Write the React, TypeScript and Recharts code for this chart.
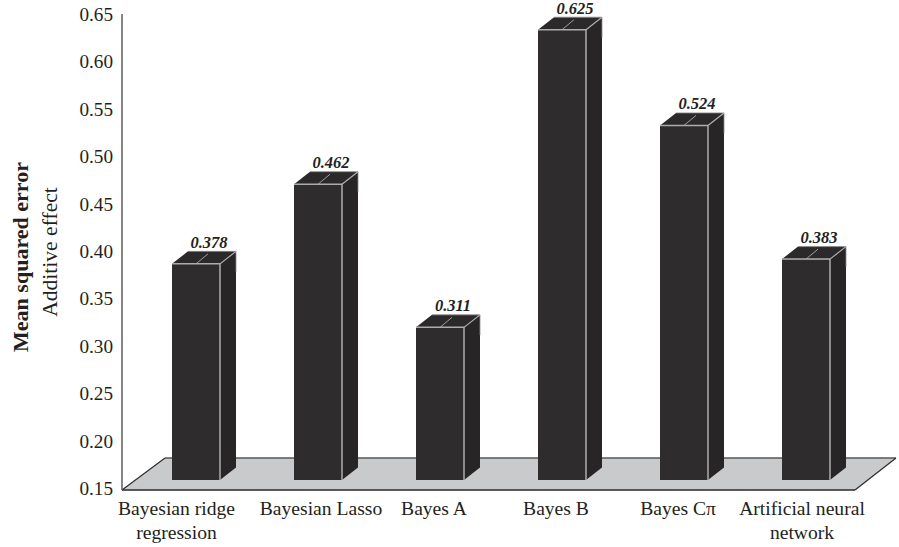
import { Bar, BarChart, LabelList, XAxis, YAxis } from "recharts";

const FONT = '"Liberation Serif", "Times New Roman", serif';

const categories = [
  "Bayesian ridge regression",
  "Bayesian Lasso",
  "Bayes A",
  "Bayes B",
  "Bayes Cπ",
  "Artificial neural network",
];
const mse = [0.378, 0.462, 0.311, 0.625, 0.524, 0.383];
const yTicks = [0.15, 0.2, 0.25, 0.3, 0.35, 0.4, 0.45, 0.5, 0.55, 0.6, 0.65];

// first/second line of each category tick
const tickLines = [
  ["Bayesian ridge", "regression"],
  ["Bayesian Lasso"],
  ["Bayes A"],
  ["Bayes B"],
  ["Bayes Cπ"],
  ["Artificial neural", "network"],
];
const tickShift = [-19.5, 3, -6, -6, -6, -4];

const rows = categories.map((name, i) => ({ name, mse: mse[i] }));

const DEPTH_X = 16;
const DEPTH_Y = 12.5;

// Box with front, side and top faces
function Box({ x, y, width, height }: any) {
  const r = x + width;
  const b = y + height;
  const mid = x + width / 2;
  return (
    <g>
      <polygon
        points={`${r},${y} ${r + DEPTH_X},${y - DEPTH_Y} ${r + DEPTH_X},${b - DEPTH_Y} ${r},${b}`}
        fill="#272526"
      />
      <polygon
        points={`${x},${y} ${x + DEPTH_X},${y - DEPTH_Y} ${r + DEPTH_X},${y - DEPTH_Y} ${r},${y}`}
        fill="#2b292a"
      />
      <polyline
        points={`${x + DEPTH_X},${y - DEPTH_Y} ${r + DEPTH_X},${y - DEPTH_Y} ${r + DEPTH_X},${y + 8}`}
        fill="none"
        stroke="#8a8a8a"
        strokeWidth={0.8}
      />
      <rect x={x} y={y} width={width} height={height} fill="#2e2c2d" />
      <line x1={mid} y1={y} x2={mid + 12} y2={y - 10} stroke="#a0a0a0" strokeWidth={1} />
      <polyline
        points={`${x},${y} ${r},${y} ${r},${b}`}
        fill="none"
        stroke="#adadad"
        strokeWidth={1.5}
      />
      <line x1={r} y1={y} x2={r + DEPTH_X} y2={y - DEPTH_Y} stroke="#adadad" strokeWidth={1.2} />
    </g>
  );
}

function Floor() {
  return (
    <g>
      <polygon points="122,490 165,458 896,458 855,490" fill="#c9cacc" />
      <line x1={165} y1={458} x2={896} y2={458} stroke="#55575a" strokeWidth={1.5} />
      <line x1={122} y1={490} x2={165} y2={458} stroke="#2c2c2c" strokeWidth={1.2} />
      <line x1={855} y1={490} x2={896} y2={458} stroke="#2c2c2c" strokeWidth={1.2} />
      <line x1={122} y1={490} x2={855} y2={490} stroke="#2a2a2a" strokeWidth={1.5} />
      <line x1={122} y1={14} x2={122} y2={490} stroke="#5c5c5c" strokeWidth={1.5} />
    </g>
  );
}

function CategoryTick({ x, y, index }: any) {
  return (
    <text textAnchor="middle" fontFamily={FONT} fontSize={19.6} fill="#231f20">
      {tickLines[index].map((line, i) => (
        <tspan key={line} x={x + tickShift[index]} y={y + 35 + i * 24}>
          {line}
        </tspan>
      ))}
    </text>
  );
}

function ValueTick({ y, payload }: any) {
  return (
    <text x={113} y={y + 15} textAnchor="end" fontFamily={FONT} fontSize={19.2} fill="#231f20">
      {payload.value.toFixed(2)}
    </text>
  );
}

function ValueLabel({ x, y, width, value }: any) {
  return (
    <text
      x={x + width / 2 + 13}
      y={y - 16}
      textAnchor="middle"
      fontFamily={FONT}
      fontSize={16.5}
      fontWeight="bold"
      fontStyle="italic"
      fill="#231f20"
    >
      {value.toFixed(3)}
    </text>
  );
}

export default function App() {
  return (
    <div style={{ position: "absolute", left: 0, top: 0 }}>
      <BarChart
        width={899}
        height={547}
        data={rows}
        margin={{ top: 6, right: 32, bottom: 0, left: 0 }}
      >
        <Floor />
        <XAxis
          dataKey="name"
          height={67}
          axisLine={false}
          tickLine={false}
          tickSize={0}
          tickMargin={0}
          interval={0}
          tick={<CategoryTick />}
        />
        <YAxis
          width={135}
          domain={[0.15, 0.65]}
          ticks={yTicks}
          interval={0}
          axisLine={false}
          tickLine={false}
          tick={<ValueTick />}
        />
        <Bar dataKey="mse" barSize={48} shape={<Box />} isAnimationActive={false}>
          <LabelList dataKey="mse" content={<ValueLabel />} />
        </Bar>
        <text
          transform="translate(28,257) rotate(-90)"
          textAnchor="middle"
          fontFamily={FONT}
          fontSize={22}
          fontWeight="bold"
          fill="#231f20"
        >
          Mean squared error
        </text>
        <text
          transform="translate(57,252) rotate(-90)"
          textAnchor="middle"
          fontFamily={FONT}
          fontSize={21.6}
          fill="#231f20"
        >
          Additive effect
        </text>
      </BarChart>
    </div>
  );
}
